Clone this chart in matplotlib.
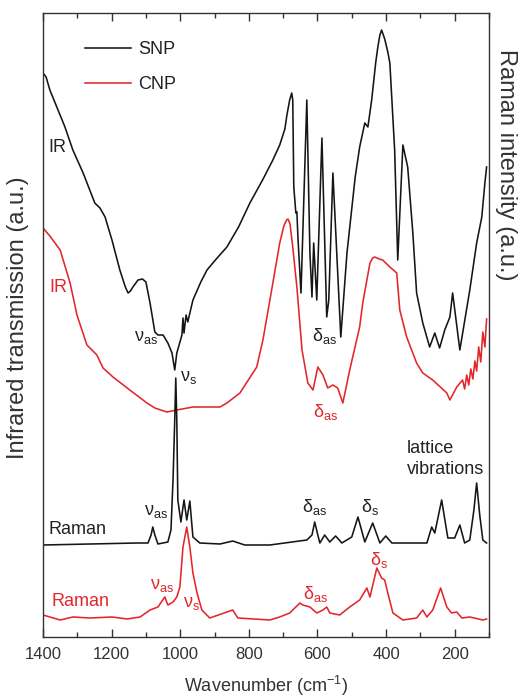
import matplotlib
matplotlib.use('Agg')
import matplotlib.pyplot as plt
from matplotlib.ticker import MultipleLocator

plt.rcParams['font.family'] = ['Liberation Sans', 'DejaVu Sans']
plt.rcParams['mathtext.fontset'] = 'custom'
plt.rcParams['mathtext.rm'] = 'Liberation Sans'
plt.rcParams['mathtext.it'] = 'Liberation Sans'
plt.rcParams['mathtext.sf'] = 'Liberation Sans'
plt.rcParams['mathtext.bf'] = 'Liberation Sans:bold'

BLACK = '#151515'
RED = '#e3262b'

# ---------------- data (wavenumber, arbitrary offset intensity) ----------------
snp_ir_w = [1400, 1391, 1380, 1336, 1313, 1283, 1249, 1234, 1219, 1199, 1176, 1160, 1152,
            1145, 1138, 1123, 1110, 1100, 1088, 1074, 1065, 1050, 1036, 1024, 1016, 1010, 995,
            992, 989, 983, 978, 963, 940, 922, 895, 864, 830, 797, 760, 730, 710, 695, 689, 681,
            675, 672, 669, 663,
            660, 657, 648, 631, 622, 616, 611, 602, 587, 573, 567, 555, 532, 514,
            490, 477, 462, 453, 442, 430, 424, 418, 413, 404, 395, 389, 375, 366, 351, 337, 322,
            311, 293, 273, 258, 244, 229, 214, 206, 185, 170, 156, 136, 121, 112, 107]
snp_ir_y = [564, 560, 547, 510, 487, 464, 434, 429, 420, 397, 367, 350, 344,
            346, 350, 357, 358, 355, 334, 305, 302, 302, 294, 284, 267, 284, 302,
            319, 304, 322, 315, 337, 355, 367, 378, 390, 410, 434, 457, 477, 492, 508, 522, 537,
            544, 537, 450, 424,
            425, 400, 344, 537, 384, 340, 394, 337, 499, 320, 337, 464, 300, 384,
            460, 490, 514, 510, 537, 575, 590, 602, 607, 598, 585, 574, 487, 377, 492, 470, 404,
            344, 314, 290, 304, 289, 307, 320, 344, 287, 318, 347, 394, 420, 454, 470]

cnp_ir_w = [1400, 1380, 1350, 1321, 1301, 1272, 1243, 1225, 1196, 1147, 1097, 1074,
            1039, 1010, 963, 884, 864, 826, 777, 759, 730, 710, 698, 690, 686, 680, 672, 660, 645,
            628, 613, 599, 584, 570, 555, 541, 526, 506, 477, 468, 447, 439, 433, 420, 410,
            389, 369, 360, 340, 311, 293, 264, 223, 214, 194, 177, 171, 165, 159,
            153, 147, 141, 136, 130, 124, 118, 112, 107]
cnp_ir_y = [409, 401, 387, 354, 322, 292, 282, 269, 260, 247, 234, 229,
            225, 227, 230, 230, 234, 244, 270, 297, 354, 394, 411, 417, 418, 413, 390, 350, 287,
            254, 247, 270, 262, 249, 252, 249, 234, 267, 310, 334, 374, 379, 380, 378, 377,
            370, 364, 327, 300, 274, 264, 257, 244, 237, 250, 257, 248, 262, 252,
            268, 258, 276, 266, 290, 275, 305, 290, 318]

snp_ra_w = [1400, 1126, 1094, 1085, 1080, 1074, 1065, 1036, 1027, 1021, 1016, 1013,
            1010, 1007, 998, 989, 981, 972, 963, 943, 884, 847, 812, 739, 631, 616,
            608, 599, 593, 579, 564, 547, 529, 500, 482, 462, 439, 418, 401, 383,
            281, 267, 258, 238, 220, 200, 185, 171, 156, 144, 136, 127, 118, 107]
snp_ra_y = [92, 94, 94, 102, 110, 102, 93, 95, 107, 157, 217, 259,
            217, 137, 115, 137, 117, 136, 100, 94, 93, 96, 92, 92, 97, 102,
            115, 102, 94, 102, 95, 101, 94, 100, 120, 95, 114, 94, 101, 94,
            94, 110, 104, 137, 99, 99, 112, 94, 97, 127, 154, 122, 97, 94]

cnp_ra_w = [1400, 1350, 1313, 1263, 1199, 1155, 1117, 1088, 1065, 1045, 1036, 1021,
            1010, 1001, 992, 981, 972, 963, 951, 937, 914, 847, 832, 739, 710, 681,
            651, 643, 622, 602, 584, 573, 564, 535, 506, 477, 456, 447, 427, 413,
            404, 395, 380, 351, 311, 293, 281, 264, 241, 223, 209, 194, 179, 156,
            118, 107]
cnp_ra_y = [22, 17, 20, 19, 20, 18, 20, 27, 30, 40, 32, 35,
            40, 50, 90, 110, 90, 64, 44, 27, 19, 27, 19, 17, 20, 24,
            34, 32, 30, 24, 27, 30, 24, 22, 30, 37, 49, 40, 69, 59,
            57, 44, 24, 17, 19, 27, 20, 27, 49, 30, 24, 25, 19, 20,
            17, 18]

x_ticks = [1400, 1200, 1000, 800, 600, 400, 200]

# ---------------- figure ----------------
fig = plt.figure(figsize=(5.18, 7.0), dpi=100)
ax = fig.add_axes([43 / 518, 63 / 700, 446 / 518, 624 / 700])

lw = 1.15
ax.plot(snp_ir_w, snp_ir_y, color=BLACK, lw=lw, label='SNP')
ax.plot(cnp_ir_w, cnp_ir_y, color=RED, lw=lw, label='CNP')
ax.plot(snp_ra_w, snp_ra_y, color=BLACK, lw=lw)
ax.plot(cnp_ra_w, cnp_ra_y, color=RED, lw=lw)

ax.set_xlim(1400, 100)
ax.set_ylim(0, 624)
ax.set_xticks(x_ticks)
ax.xaxis.set_minor_locator(MultipleLocator(100))
ax.set_yticks([])
ax.tick_params(axis='x', which='both', direction='in', top=True, bottom=True,
               labelsize=12, labelcolor='#333333', color='#333333', pad=7)
ax.tick_params(axis='x', which='major', length=6, width=1.0)
ax.tick_params(axis='x', which='minor', length=3.5, width=1.0)
for s in ax.spines.values():
    s.set_color('#333333')
    s.set_linewidth(1.0)

ax.set_xlabel('Wavenumber (cm$^{-1}$)', fontsize=13, color='#333333', labelpad=9)
fig.text(18 / 518, 1 - 318 / 700, 'Infrared transmission (a.u.)', rotation=90,
         ha='center', va='center', fontsize=17, color='#333333')
fig.text(506 / 518, 1 - 165 / 700, 'Raman intensity (a.u.)', rotation=270,
         ha='center', va='center', fontsize=17, color='#333333')

leg = ax.legend(loc='upper left', bbox_to_anchor=(0.095, 0.955), frameon=False,
                fontsize=13, handlelength=2.5, handletextpad=0.4,
                labelspacing=1.0, borderpad=0, borderaxespad=0)
for t in leg.get_texts():
    t.set_color('#222222')

fs = 13
kb = dict(color='#222222', fontsize=fs, ha='left', va='center')
kr = dict(color=RED, fontsize=fs, ha='left', va='center')
ax.text(1385, 489, 'IR', **kb)
ax.text(1380, 349, 'IR', **kr)
ax.text(1135, 300, r'$\nu_{as}$', **kb)
ax.text(1001, 260, r'$\nu_{s}$', **kb)
ax.text(616, 301, r'$\delta_{as}$', **kb)
ax.text(613, 225, r'$\delta_{as}$', **kr)
ax.text(340, 178, 'lattice\nvibrations', linespacing=1.25, **kb)
ax.text(1385, 107, 'Raman', **kb)
ax.text(1106, 125, r'$\nu_{as}$', **kb)
ax.text(645, 130, r'$\delta_{as}$', **kb)
ax.text(474, 130, r'$\delta_{s}$', **kb)
ax.text(1374, 35, 'Raman', **kr)
ax.text(1088, 52, r'$\nu_{as}$', **kr)
ax.text(992, 33, r'$\nu_{s}$', **kr)
ax.text(643, 43, r'$\delta_{as}$', **kr)
ax.text(447, 77, r'$\delta_{s}$', **kr)

fig.savefig('out.png', dpi=100)
